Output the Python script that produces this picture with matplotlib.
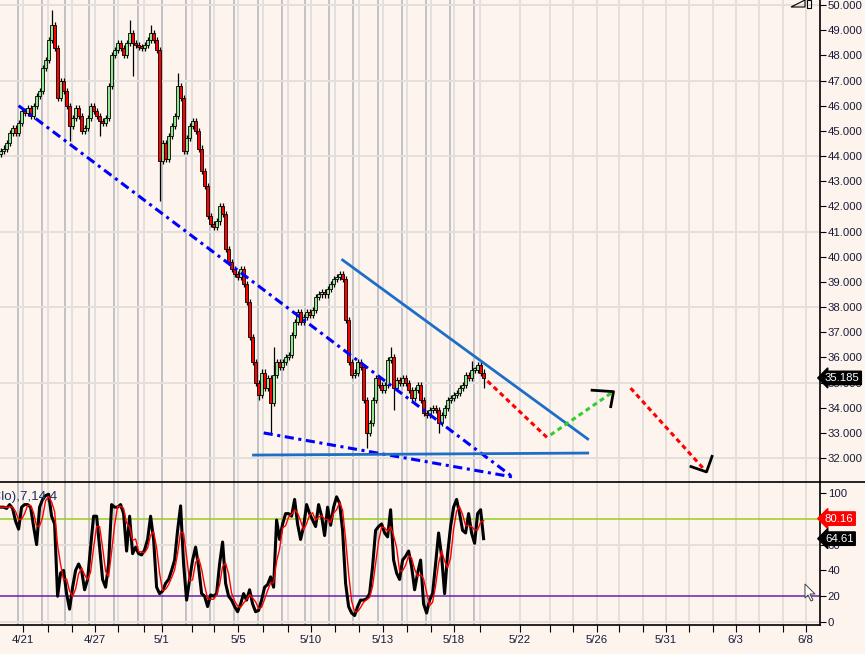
import numpy as np
import pandas as pd
import matplotlib
matplotlib.use('Agg')
import matplotlib.pyplot as plt
from matplotlib.lines import Line2D
from matplotlib.patches import Polygon
import matplotlib.transforms as mtransforms

# ------------------------------------------------------------------
# DATA (one bar every ~3 px)
# ------------------------------------------------------------------
closes = [44.2, 44.3, 44.5, 44.9, 45.1, 44.9, 45.3, 45.8, 45.7, 45.9,
          45.6, 46.0, 46.4, 46.6, 47.5, 47.8, 48.6, 49.2, 48.3, 46.3,
          47.0, 46.6, 46.0, 45.2, 45.5, 45.9, 45.6, 45.0, 45.1, 45.5,
          46.0, 45.8, 45.6, 45.4, 45.3, 45.5, 46.8, 48.0, 48.2, 48.5,
          48.3, 48.0, 48.5, 48.9, 48.5, 48.4, 48.35, 48.3, 48.4, 48.6,
          48.9, 48.6, 48.2, 43.8, 44.5, 43.9, 44.8, 45.2, 45.6, 46.8,
          46.3, 44.2, 44.7, 45.2, 45.4, 45.0, 44.3, 43.4, 42.8, 41.6,
          41.3, 41.2, 41.4, 42.0, 41.7, 40.3, 39.8, 39.5, 39.3, 39.2,
          39.5, 38.9, 38.2, 36.8, 35.8, 35.0, 34.5, 35.4, 34.8, 35.2,
          34.2, 35.3, 35.8, 35.6, 35.8, 36.0, 36.1, 36.9, 37.4, 37.8,
          37.4, 37.6, 37.8, 37.7, 37.9, 38.4, 38.5, 38.6, 38.5, 38.7,
          38.9, 39.1, 39.2, 39.3, 39.1, 37.5, 35.8, 35.3, 35.4, 35.8,
          35.6, 34.3, 33.0, 33.4, 34.3, 35.2, 34.9, 34.7, 34.9, 35.9,
          36.0, 34.8, 35.1, 35.0, 35.2, 35.0, 34.7, 34.4, 34.7, 34.9,
          34.3, 33.8, 33.7, 33.9, 34.0, 33.9, 33.4, 33.7, 34.0, 34.3,
          34.4, 34.5, 34.6, 34.8, 34.9, 35.3, 35.2, 35.5, 35.5, 35.7,
          35.4, 35.185]
first_open = 44.1
# wick spikes {bar: price}
high_spikes = {17: 49.8, 43: 49.4, 50: 49.2, 59: 47.3, 91: 36.4, 113: 39.45,
               130: 36.4, 157: 35.85}
low_spikes = {23: 44.6, 33: 44.8, 44: 47.2, 53: 42.2, 86: 34.3, 90: 33.0,
              122: 32.4, 131: 33.9, 146: 33.0, 161: 34.8}
wick_pad = 0.12

stoch_k = [89, 89, 88, 91, 88, 78, 72, 89, 91, 91,
           89, 74, 60, 89, 95, 98, 99, 82, 76, 20,
           38, 40, 22, 10, 27, 40, 45, 40, 25, 33,
           58, 82, 82, 58, 33, 27, 45, 91, 89, 89,
           91, 84, 55, 82, 53, 58, 53, 52, 56, 64,
           82, 64, 27, 22, 24, 30, 33, 40, 48, 71,
           90, 45, 17, 33, 48, 58, 43, 22, 20, 12,
           21, 20, 22, 45, 62, 30, 20, 17, 12, 8,
           14, 22, 17, 25, 14, 8, 9, 17, 27, 29,
           35, 27, 79, 64, 76, 84, 84, 82, 95, 76,
           64, 74, 91, 84, 79, 74, 91, 82, 67, 89,
           75, 89, 97, 92, 71, 30, 12, 7, 5, 12,
           17, 17, 18, 22, 43, 71, 74, 76, 69, 66,
           87, 48, 38, 33, 48, 51, 55, 43, 25, 38,
           48, 14, 7, 17, 22, 45, 69, 51, 22, 53,
           74, 89, 95, 84, 71, 69, 84, 69, 61, 84,
           87, 64.61]
stoch_d_last = 80.16
last_price = 35.185

date_labels = ['4/21', '4/27', '5/1', '5/5', '5/10', '5/13', '5/18',
               '5/22', '5/26', '5/31', '6/3', '6/8']

# trend lines drawn on the chart: (bar, price) pairs
blue_dashdot = [[(6.0, 46.0), (170.7, 31.25)],
                [(87.7, 33.0), (170.7, 31.25)]]
blue_solid = [[(114.0, 39.87), (195.7, 32.76)],
              [(84.3, 32.12), (195.7, 32.2)]]
red_dashed = [[(162.3, 35.06), (182.3, 32.8)],
              [(210.0, 34.78), (235.3, 31.45)]]
green_dashed = [[(183.3, 32.92), (204.0, 34.62)]]
black_heads = [[(196.7, 34.70), (204.3, 34.64), (203.3, 33.99)],
               [(229.7, 31.68), (235.3, 31.45), (237.3, 32.12)]]

# ------------------------------------------------------------------
# axis layout (bar units = px / 3)
# ------------------------------------------------------------------
tick_pos = [7.3, 15.7, 23.7, 31.3, 39.3, 47.7, 53.7, 63.7, 71.3, 79.3, 87.3,
            95.7, 103.3, 111.3, 119.3, 127.3, 135.3, 143.3, 151.0, 159.7,
            173.0, 183.0, 190.7, 198.7, 206.0, 214.0, 221.7, 229.3, 237.3,
            245.0, 252.7, 260.7, 268.3]
label_pos = [7.3, 31.3, 53.7, 79.3, 103.3, 127.3, 151.0, 173.0, 198.7,
             221.7, 245.0, 268.3]
session_pos = [5.7, 13.7, 21.3, 29.3, 37.7, 45.7, 53.7, 61.7, 69.7, 77.7,
               85.7, 93.7, 101.3, 109.3, 117.3, 125.7, 133.7, 141.7, 149.7,
               157.7]

bg = '#fdf4ee'
txt = '#1a1a3a'
plt.rcParams['font.family'] = ['Liberation Sans', 'DejaVu Sans']

W, H = 865, 654
fig = plt.figure(figsize=(W / 100, H / 100), dpi=100)
fig.patch.set_facecolor(bg)
ax1 = fig.add_axes([0, 172 / H, 820 / W, 482 / H])
ax2 = fig.add_axes([0, 29 / H, 820 / W, 143 / H])
xmax = 820 / 3
for ax in (ax1, ax2):
    ax.set_facecolor(bg)
    ax.set_xlim(-0.2, xmax - 0.2)
    for s in ('left', 'top'):
        ax.spines[s].set_visible(False)
    ax.spines['right'].set_color('black')
    ax.spines['right'].set_linewidth(1.2)
    ax.yaxis.tick_right()
    ax.tick_params(axis='y', direction='out', length=4, width=0.8,
                   labelsize=8.2, labelcolor=txt, pad=1.5)
ax1.spines['bottom'].set_visible(False)
ax2.spines['bottom'].set_linewidth(1.2)

# grid
for p in tick_pos:
    ax1.axvline(p, color='#e2dfdd', lw=1.4, zorder=0)
    ax2.axvline(p, color='#e2dfdd', lw=1.4, zorder=0)
for p in session_pos:
    ax1.axvline(p, color='#c2c2c6', lw=1.4, zorder=0)
    ax2.axvline(p, color='#c2c2c6', lw=1.4, zorder=0)
for v in range(32, 51, 3):
    ax1.axhline(v, color='#e2dfdd', lw=1.4, zorder=0)
for v in (0, 60):
    ax2.axhline(v, color='#e2dfdd', lw=1.4, zorder=0)

# ------------------------------------------------------------------
# candles
# ------------------------------------------------------------------
df = pd.DataFrame({'close': closes})
df['open'] = [first_open] + closes[:-1]
df['high'] = df[['open', 'close']].max(axis=1) + wick_pad
df['low'] = df[['open', 'close']].min(axis=1) - wick_pad
for k, v in high_spikes.items():
    df.loc[k, 'high'] = v
for k, v in low_spikes.items():
    df.loc[k, 'low'] = v
x = np.arange(len(df))
ax1.vlines(x, df['low'], df['high'], color='black', lw=0.9, zorder=2)
up = df['close'] >= df['open']
body_b = df[['open', 'close']].min(axis=1)
body_h = (df['close'] - df['open']).abs().clip(lower=0.06)
ax1.bar(x[up], body_h[up], bottom=body_b[up], width=0.75, color='#8ee68e',
        edgecolor='black', linewidth=0.6, zorder=3)
ax1.bar(x[~up], body_h[~up], bottom=body_b[~up], width=0.75, color='#ff0000',
        edgecolor='black', linewidth=0.6, zorder=3)

# drawn lines
for seg in blue_dashdot:
    xs, ys = zip(*seg)
    ax1.plot(xs, ys, color='#0000ff', lw=2.2, ls=(0, (3, 1.5, 1, 1.5)), zorder=4)
for seg in blue_solid:
    xs, ys = zip(*seg)
    ax1.plot(xs, ys, color='#1e6ec8', lw=2.0, zorder=4)
for seg in red_dashed:
    xs, ys = zip(*seg)
    ax1.plot(xs, ys, color='#ff0000', lw=2.2, ls=(0, (1.6, 1.2)), zorder=4)
for seg in green_dashed:
    xs, ys = zip(*seg)
    ax1.plot(xs, ys, color='#33cc33', lw=2.2, ls=(0, (1.6, 1.2)), zorder=4)
for seg in black_heads:
    xs, ys = zip(*seg)
    ax1.plot(xs, ys, color='black', lw=2.0, zorder=5, solid_capstyle='butt')

ax1.set_ylim(31.05, 50.2)
ax1.set_yticks(range(32, 51))
ax1.set_yticklabels(['{:.3f}'.format(v) for v in range(32, 51)])
ax1.set_xticks([])

tr1 = mtransforms.blended_transform_factory(ax1.transAxes, ax1.transData)
ax1.text(1.006, last_price, '{:.3f}'.format(last_price), transform=tr1,
         ha='left', va='center', color='white', fontsize=8.2, clip_on=False,
         bbox=dict(boxstyle='larrow,pad=0.15', fc='black', ec='black'))

# ------------------------------------------------------------------
# stochastic panel
# ------------------------------------------------------------------
k = pd.Series(stoch_k, dtype=float)
d = k.rolling(3, min_periods=1).mean()
ax2.axhline(80, color='#99cc22', lw=1.1, zorder=1)
ax2.axhline(20, color='#6a1fa8', lw=1.1, zorder=1)
ax2.plot(x, k, color='black', lw=2.2, zorder=3)
ax2.plot(x, d, color='#ff0000', lw=1.0, zorder=4)
ax2.set_ylim(-2.3, 108.5)
ax2.set_yticks([0, 20, 40, 60, 80, 100])
tr2 = mtransforms.blended_transform_factory(ax2.transAxes, ax2.transData)
ax2.text(58 / 820, 97, 'Stoch(Clo),7,14,4', transform=tr2,
         ha='right', va='center', fontsize=9.6, color='#203060', clip_on=True, zorder=5)

ax2.text(1.006, stoch_d_last, '{:.2f}'.format(stoch_d_last), transform=tr2,
         ha='left', va='center', color='white', fontsize=8.2, clip_on=False,
         bbox=dict(boxstyle='larrow,pad=0.15', fc='#ff0000', ec='#ff0000'))
ax2.text(1.006, stoch_k[-1], '{:.2f}'.format(stoch_k[-1]), transform=tr2,
         ha='left', va='center', color='white', fontsize=8.2, clip_on=False,
         bbox=dict(boxstyle='larrow,pad=0.15', fc='black', ec='black'))

ax2.set_xticks(tick_pos)
ax2.set_xticklabels([date_labels[label_pos.index(p)] if p in label_pos else ''
                     for p in tick_pos])
ax2.tick_params(axis='x', direction='out', length=5, width=0.8,
                labelsize=8.2, labelcolor=txt, pad=2)

# panel separator across full width
fig.add_artist(Line2D([0, 1], [172 / H, 172 / H], color='black', lw=1.2,
                      transform=fig.transFigure))

# toolbar glyph top right and mouse cursor (pixel coords)
def px(pts):
    return [(a / W, 1 - b / H) for a, b in pts]

fig.add_artist(Polygon(px([(791, 7), (805, 0), (805, 7)]), closed=True,
                       fill=False, ec='black', lw=0.8, transform=fig.transFigure))
fig.add_artist(Polygon(px([(807, 0), (811, 0), (811, 8), (807, 8)]), closed=True,
                       fill=False, ec='black', lw=0.8, transform=fig.transFigure))
fig.add_artist(Polygon(px([(805, 584), (805, 598), (808, 595), (811, 601),
                           (813, 600), (810, 594), (815, 594)]), closed=True,
                       fc='white', ec='#404040', lw=0.7, transform=fig.transFigure))

fig.savefig('out.png', dpi=100, facecolor=bg)
